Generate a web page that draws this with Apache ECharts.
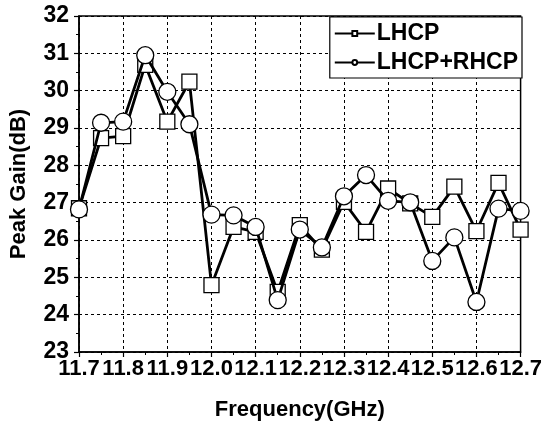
<!DOCTYPE html>
<html><head><meta charset="utf-8">
<script src="https://cdn.jsdelivr.net/npm/echarts@6/dist/echarts.min.js"></script>
<style>html,body{margin:0;padding:0;background:#fff}#c{width:545px;height:428px}</style>
</head><body><div id="c"></div>
<script>
var freq = [11.70,11.75,11.80,11.85,11.90,11.95,12.00,12.05,12.10,12.15,12.20,12.25,12.30,12.35,12.40,12.45,12.50,12.55,12.60,12.65,12.70];
var lhcp = [26.85,28.73,28.78,30.69,29.17,30.24,24.79,26.35,26.22,24.61,26.40,25.74,27.02,26.22,27.38,26.98,26.62,27.43,26.24,27.53,26.28];
var lhcpRhcp = [26.82,29.14,29.17,30.95,29.97,29.10,26.68,26.66,26.35,24.39,26.28,25.80,27.17,27.74,27.05,27.01,25.44,26.07,24.34,26.84,26.78];
var seriesNames = ['LHCP','LHCP+RHCP'];
var xTicks = ['11.7','11.8','11.9','12.0','12.1','12.2','12.3','12.4','12.5','12.6','12.7'];

var FONT = '"Liberation Sans", Arial, sans-serif';
function pairs(xs, ys){ return xs.map(function(x,i){ return [x, ys[i]]; }); }
var chart = echarts.init(document.getElementById('c'), null, {renderer:'canvas'});
chart.setOption({
  animation:false,
  backgroundColor:'#fff',
  grid:{left:75,right:22,top:16,bottom:76,show:true,borderColor:'#000',borderWidth:1.5,backgroundColor:'transparent'},
  legend:{
    right:23, top:17, orient:'vertical', align:'left',
    backgroundColor:'#fff', borderColor:'#000', borderWidth:1.2, borderRadius:0,
    padding:[5,4,4,4], itemGap:6, itemWidth:40, itemHeight:6,
    textStyle:{fontFamily:FONT,fontWeight:'bold',fontSize:23,color:'#000',padding:[0,0,0,-3]},
    data:seriesNames
  },
  xAxis:{
    type:'value', min:11.7, max:12.7, interval:0.1,
    name:'Frequency(GHz)', nameLocation:'middle', nameGap:47,
    nameTextStyle:{fontFamily:FONT,fontWeight:'bold',fontSize:22,color:'#000'},
    axisLine:{show:true,onZero:false,lineStyle:{color:'#000',width:1.5}},
    axisTick:{show:true,inside:false,length:5,lineStyle:{color:'#000',width:1.2}},
    minorTick:{show:true,splitNumber:2,length:3,lineStyle:{color:'#000',width:1}},
    axisLabel:{fontFamily:FONT,fontWeight:'bold',fontSize:22,color:'#000',margin:6,
      showMinLabel:true, showMaxLabel:true, hideOverlap:false,
      formatter:function(v){ var i=Math.round((v-11.7)*10); return xTicks[i]; }},
    splitLine:{show:true,lineStyle:{color:'#000',width:1,type:[3,3]}}
  },
  yAxis:{
    type:'value', min:23, max:32, interval:1,
    name:'Peak Gain(dB)', nameLocation:'middle', nameGap:49, nameRotate:90,
    nameTextStyle:{fontFamily:FONT,fontWeight:'bold',fontSize:22,color:'#000'},
    axisLine:{show:true,onZero:false,lineStyle:{color:'#000',width:1.5}},
    axisTick:{show:true,inside:false,length:5,lineStyle:{color:'#000',width:1.2}},
    minorTick:{show:true,splitNumber:2,length:3,lineStyle:{color:'#000',width:1}},
    axisLabel:{fontFamily:FONT,fontWeight:'bold',fontSize:23,color:'#000',margin:10},
    splitLine:{show:true,lineStyle:{color:'#000',width:1,type:[3,3]}}
  },
  series:[
    {name:seriesNames[0],type:'line',data:pairs(freq,lhcp),symbol:'rect',symbolSize:15,
     lineStyle:{color:'#000',width:2.8},itemStyle:{color:'#fff',borderColor:'#000',borderWidth:1.3},z:2},
    {name:seriesNames[1],type:'line',data:pairs(freq,lhcpRhcp),symbol:'circle',symbolSize:17,
     lineStyle:{color:'#000',width:2.8},itemStyle:{color:'#fff',borderColor:'#000',borderWidth:1.3},z:3}
  ]
});
</script></body></html>
